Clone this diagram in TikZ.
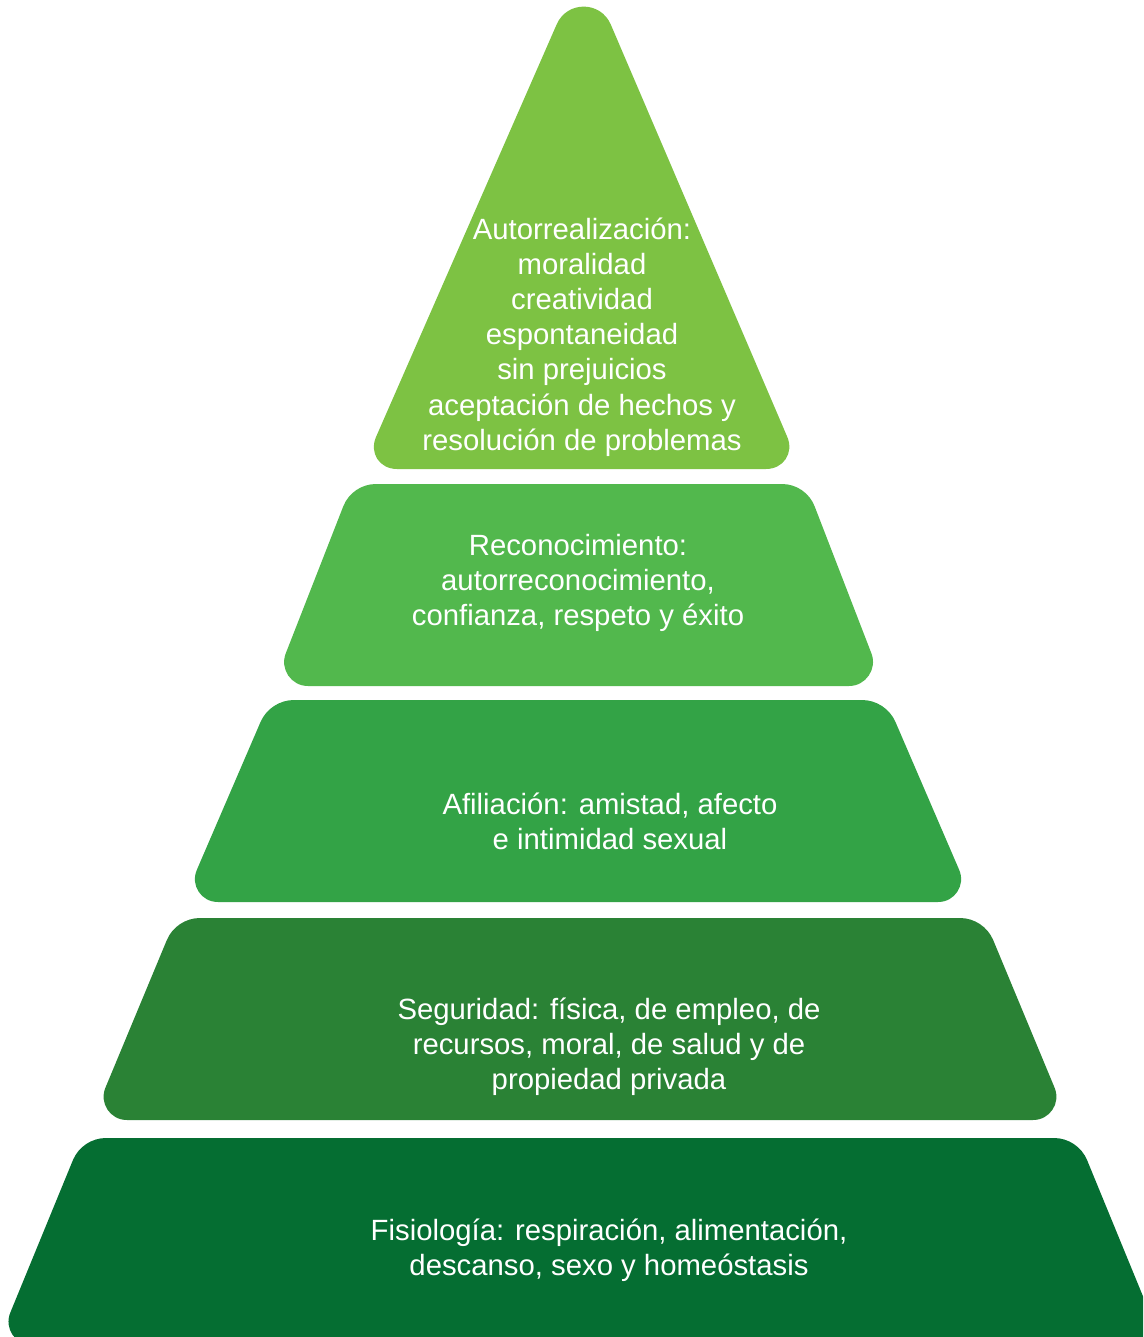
\documentclass[tikz,border=0pt]{standalone}
\usepackage{fontspec}
\setmainfont{Liberation Sans}
\usetikzlibrary{calc}
\definecolor{lvA}{RGB}{125,194,67}
\definecolor{lvB}{RGB}{82,184,77}
\definecolor{lvC}{RGB}{51,163,70}
\definecolor{lvD}{RGB}{42,130,53}
\definecolor{lvE}{RGB}{5,110,50}
% corner from #1 via vertex #2 towards #3, tangent length #4, control fraction #5
\newcommand\rcorner[5]{-- ($(#2)!#4!(#1)$) .. controls ($(#2)!#5*#4!(#1)$) and ($(#2)!#5*#4!(#3)$) .. ($(#2)!#4!(#3)$)}
\tikzset{
  lvtext/.style={text=white, align=center, font=\fontsize{29.3}{35.2}\selectfont, inner sep=0pt}
}
\begin{document}
\begin{tikzpicture}[x=1pt,y=-1pt]
\useasboundingbox (0,0) rectangle (1143,1337);
\clip (0,0) rectangle (1143,1337);
% level 1 (triangle)
\coordinate (p1t) at (584,-38);
\coordinate (p1r) at (801,469);
\coordinate (p1l) at (362,469);
\fill[lvA] ($(p1l)!0.5!(p1r)$) \rcorner{p1l}{p1r}{p1t}{35pt}{0.5} \rcorner{p1r}{p1t}{p1l}{68pt}{0.62} \rcorner{p1t}{p1l}{p1r}{35pt}{0.5} -- cycle;
% level 2
\coordinate (p2a) at (352,484);
\coordinate (p2b) at (806,484);
\coordinate (p2c) at (884,686);
\coordinate (p2d) at (273,686);
\fill[lvB] ($(p2a)!0.5!(p2b)$) \rcorner{p2a}{p2b}{p2c}{24pt}{0.4} \rcorner{p2b}{p2c}{p2d}{35pt}{0.52} \rcorner{p2c}{p2d}{p2a}{35pt}{0.52} \rcorner{p2d}{p2a}{p2b}{24pt}{0.4} -- cycle;
% level 3
\coordinate (p3a) at (270,700);
\coordinate (p3b) at (886,700);
\coordinate (p3c) at (973,902);
\coordinate (p3d) at (183,902);
\fill[lvC] ($(p3a)!0.5!(p3b)$) \rcorner{p3a}{p3b}{p3c}{24pt}{0.4} \rcorner{p3b}{p3c}{p3d}{35pt}{0.52} \rcorner{p3c}{p3d}{p3a}{35pt}{0.52} \rcorner{p3d}{p3a}{p3b}{24pt}{0.4} -- cycle;
% level 4
\coordinate (p4a) at (176,918);
\coordinate (p4b) at (984,918);
\coordinate (p4c) at (1068,1120);
\coordinate (p4d) at (92,1120);
\fill[lvD] ($(p4a)!0.5!(p4b)$) \rcorner{p4a}{p4b}{p4c}{24pt}{0.4} \rcorner{p4b}{p4c}{p4d}{35pt}{0.52} \rcorner{p4c}{p4d}{p4a}{35pt}{0.52} \rcorner{p4d}{p4a}{p4b}{24pt}{0.4} -- cycle;
% level 5
\coordinate (p5a) at (82,1138);
\coordinate (p5b) at (1078,1138);
\coordinate (p5c) at (1163,1345);
\coordinate (p5d) at (-3,1345);
\fill[lvE] ($(p5a)!0.5!(p5b)$) \rcorner{p5a}{p5b}{p5c}{24pt}{0.4} \rcorner{p5b}{p5c}{p5d}{35pt}{0.52} \rcorner{p5c}{p5d}{p5a}{35pt}{0.52} \rcorner{p5d}{p5a}{p5b}{24pt}{0.4} -- cycle;
% texts
\node[lvtext] (t1) at (582,337) {Autorrealización:\\moralidad\\creatividad\\espontaneidad\\sin prejuicios\\aceptación de hechos y\\resolución de problemas};
\node[lvtext] (t2) at (578,583) {Reconocimiento:\\autorreconocimiento,\\confianza, respeto y éxito};
\node[lvtext] (t3) at (610,821) {Afiliación: amistad, afecto\\e intimidad sexual};
\node[lvtext] (t4) at (609,1047) {Seguridad: física, de empleo, de\\recursos, moral, de salud y de\\propiedad privada};
\node[lvtext] (t5) at (609,1250) {Fisiología: respiración, alimentación,\\descanso, sexo y homeóstasis};
\end{tikzpicture}
\end{document}
